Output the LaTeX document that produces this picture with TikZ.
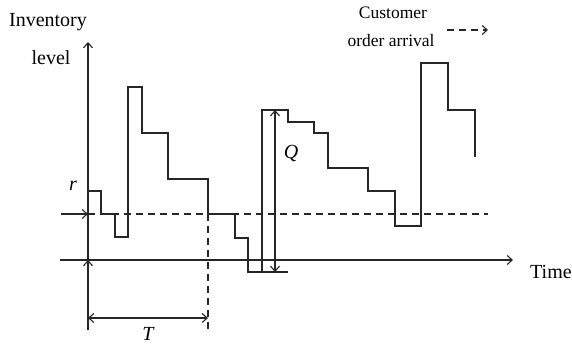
\documentclass[tikz,border=0pt]{standalone}
\usepackage{fontspec}
\setmainfont{Liberation Serif}
\usetikzlibrary{arrows.meta}
\begin{document}
\begin{tikzpicture}[x=1pt,y=-1pt,
  ln/.style={line width=1.1pt,draw=black!85},
  tip/.style={-{Straight Barb[length=5pt,width=9pt]}},
  tips/.style={{Straight Barb[length=5pt,width=9pt]}-{Straight Barb[length=5pt,width=9pt]}},
  lbl/.style={font=\fontsize{20}{24}\selectfont,inner sep=0pt},
  lbs/.style={font=\fontsize{17.5}{21}\selectfont,inner sep=0pt},
  dsh/.style={dash pattern=on 7pt off 5pt}]
\useasboundingbox (0,0) rectangle (572,347);
% axes
\coordinate (o) at (88,260);
\coordinate (ytop) at (88,42);
\coordinate (ybot) at (88,330);
\coordinate (xl) at (60,260);
\coordinate (xr) at (513,260);
\draw[ln,tip] (o) -- (ytop);
\draw[ln,tip] (ybot) -- (o);
\draw[ln,tip] (xl) -- (xr);
% reorder level r
\coordinate (rl) at (61,214);
\coordinate (r0) at (88,214);
\coordinate (rr) at (488,214);
\draw[ln,tip] (rl) -- (r0);
\draw[ln,dsh] (r0) -- (rr);
% T
\coordinate (t0) at (88,318);
\coordinate (t1) at (208,318);
\coordinate (tdA) at (208,214);
\coordinate (tdB) at (208,330);
\draw[ln,dsh] (tdA) -- (tdB);
\draw[ln,tips] (t0) -- (t1);
% inventory path
\draw[ln] (88,191) -| (101,214) -| (115,237) -| (128,87) -| (142,133) -| (168,179) -| (208,214)
  -| (235,238) -| (248,272) -- (288,272);
\draw[ln] (262,272) |- (288,110) |- (314,122) |- (328,133) |- (368,168) |- (395,191) |- (421,226)
  |- (448,63) |- (475,110) -- (475,157);
% Q
\coordinate (q0) at (275,110);
\coordinate (q1) at (275,272);
\draw[ln,tips] (q0) -- (q1);
% labels
\node[lbl] (inv) at (48,22) {Inventory};
\node[lbl] (lev) at (51,58) {level};
\node[lbs] (cus) at (393,13) {Customer};
\node[lbs] (ord) at (391,41) {order arrival};
\coordinate (ca0) at (447,30);
\coordinate (ca1) at (488,30);
\draw[ln,dsh,tip] (ca0) -- (ca1);
\node[lbl] (rlab) at (73,186) {\itshape r};
\node[lbl] (tlab) at (148,334) {\itshape T};
\node[lbl] (qlab) at (291,154) {\itshape Q};
\node[lbl,anchor=west] (time) at (530,272) {Time};
\end{tikzpicture}
\end{document}
